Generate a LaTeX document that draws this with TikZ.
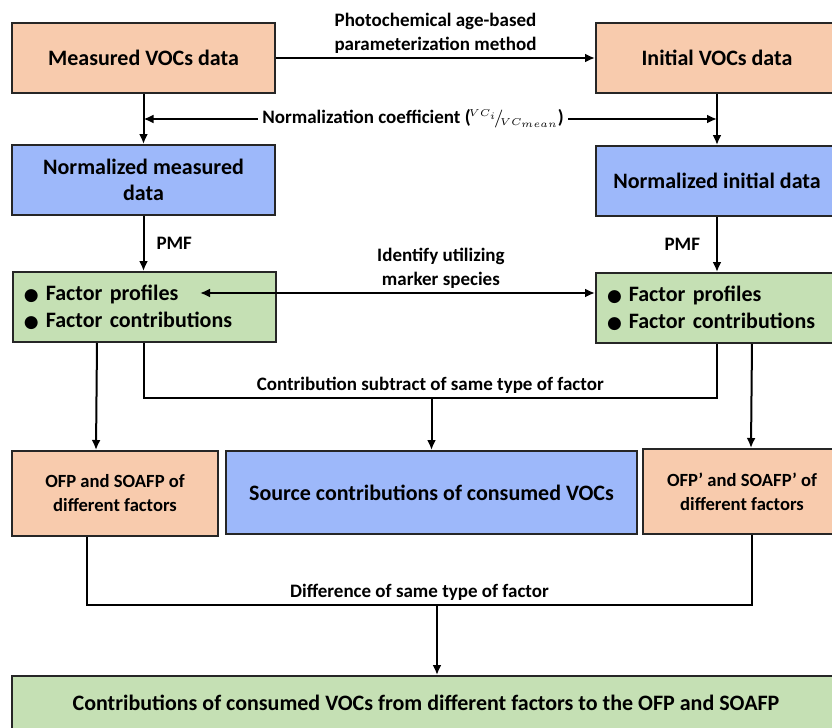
\documentclass[tikz,border=0pt]{standalone}
\usepackage{fontspec}
\setmainfont{Carlito}
\newfontfamily\bulletfont{DejaVu Sans}
\usetikzlibrary{arrows.meta,calc}
\definecolor{boxorange}{HTML}{F8CBAD}
\definecolor{boxblue}{RGB}{157,184,250}
\definecolor{boxgreen}{HTML}{C5E0B4}
\tikzset{
    box/.style={draw=black!85, inner sep=0pt, align=center,
        font=\fontsize{11}{13}\selectfont\bfseries},
    smallbox/.style={box, font=\fontsize{9.3}{12}\selectfont\bfseries},
    lbl/.style={font=\fontsize{9.5}{12}\selectfont\bfseries, align=center, inner sep=2pt},
    link/.style={->},
}
\newcommand{\dotitem}{{\bulletfont\fontsize{8.5}{9}\selectfont ●}\hspace{3.5pt}}
\begin{document}
\begin{tikzpicture}[x=0.5pt, y=-0.5pt, line width=1pt, >={Latex[length=5pt,width=4.5pt]}]
    \useasboundingbox (0,0) rectangle (832,728);
    \clip (0,0) rectangle (832,728);
    \node[box, fill=boxorange, minimum width=131.5pt, minimum height=35pt] (meas) at (143.5,58) {Measured VOCs data};
    \node[box, fill=boxorange, minimum width=121pt, minimum height=35pt] (init) at (717,58) {Initial VOCs data};
    \node[box, fill=boxblue, minimum width=131.5pt, minimum height=35pt] (nmeas) at (143.5,180) {Normalized measured\\data};
    \node[box, fill=boxblue, minimum width=121pt, minimum height=35pt] (ninit) at (717,181) {Normalized initial data};
    \node[box, fill=boxgreen, anchor=west, align=left, text width=120.5pt, inner xsep=5.5pt, minimum height=35pt,
        font=\fontsize{11}{13.5}\selectfont\bfseries] (fleft) at (12,307) {\dotitem Factor profiles\\\dotitem Factor contributions};
    \node[box, fill=boxgreen, anchor=west, align=left, text width=130pt, inner xsep=5.5pt, minimum height=35pt,
        font=\fontsize{11}{13.5}\selectfont\bfseries] (fright) at (595,308) {\dotitem Factor profiles\\\dotitem Factor contributions};
    \node[smallbox, fill=boxorange, minimum width=103pt, minimum height=42.5pt] (ofp) at (115,493.5) {OFP and SOAFP of\\different factors};
    \node[box, fill=boxblue, minimum width=205.5pt, minimum height=41.5pt] (src) at (431.5,492.5) {Source contributions of consumed VOCs};
    \node[smallbox, fill=boxorange, minimum width=99pt, minimum height=42.5pt] (ofp2) at (742,491.5) {OFP’ and SOAFP’ of\\different factors};
    \node[box, fill=boxgreen, minimum width=414pt, minimum height=27pt] (final) at (426,703) {Contributions of consumed VOCs from different factors to the OFP and SOAFP};

    \draw[link] (meas) -- node[lbl, above] {Photochemical age-based\\parameterization method} (init);
    \draw[link] (meas) -- (nmeas);
    \draw[link] (init) -- (ninit);
    \coordinate (nl) at ($(meas.south)!0.5!(nmeas.north)$);
    \draw[<->] (nl) -- node[lbl, fill=white, pos=0.47] {Normalization coefficient (\kern-1pt${}^{\scriptscriptstyle VC_i}\!/\!_{\scriptscriptstyle VC_{mean}}$\kern-0.5pt)} (nl -| init.south);
    \draw[link] (nmeas) -- node[lbl, right=4pt] {PMF} (fleft.north -| nmeas.south);
    \draw[link] (ninit) -- node[lbl, left=6pt] {PMF} (ninit |- fright.north);
    \coordinate (id) at (200,293);
    \draw[<->] (id) -- node[lbl, above, pos=0.61] {Identify utilizing\\marker species} (id -| fright.west);
    \draw[link] ($(fleft.south west)+(85,0)$) -- ($(ofp.north west)+(85,0)$);
    \coordinate (cs) at ($(fleft.south -| nmeas.south)+(0,55)$);
    \draw (fleft.south -| nmeas.south) -- (cs) -- node[lbl, above] {Contribution subtract of same type of factor} (cs -| ninit.south) -- (ninit.south |- fright.south);
    \draw[link] (cs -| src.north) -- (src.north);
    \draw[link] ($(fright.south west)+(157,0)$) -- ($(ofp2.north west)+(109,0)$);
    \coordinate (df) at ($(ofp.south west)+(76,68)$);
    \coordinate (dr) at ($(ofp2.south west)+(110,0)$);
    \draw ($(ofp.south west)+(76,0)$) -- (df) -- node[lbl, above] {Difference of same type of factor} (df -| dr) -- (dr);
    \coordinate (dn) at ($(final.north)+(11,0)$);
    \draw[link] (df -| dn) -- (dn);
\end{tikzpicture}
\end{document}
